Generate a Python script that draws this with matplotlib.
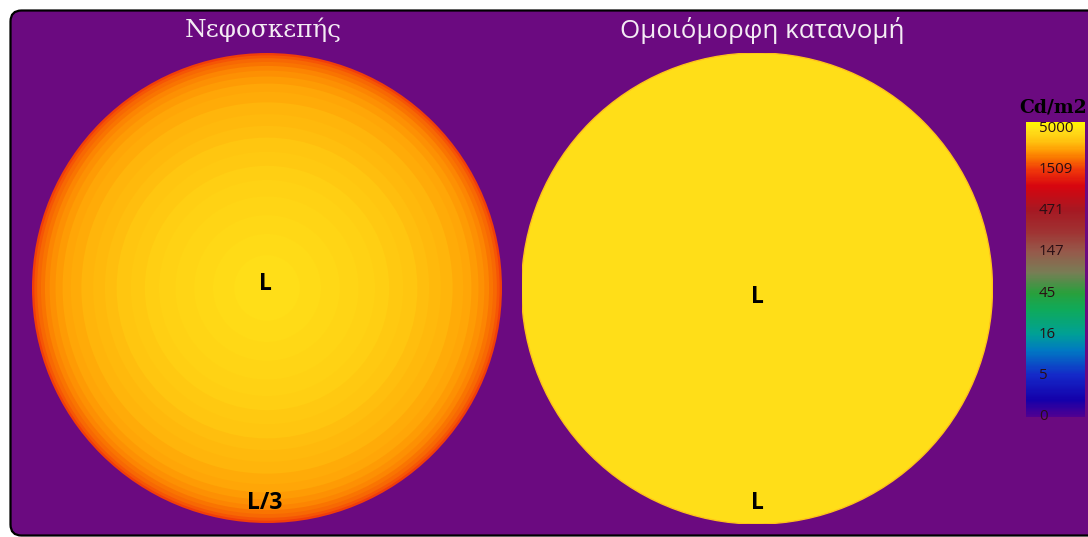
import numpy as np
import matplotlib
matplotlib.use("Agg")
import matplotlib.pyplot as plt
from matplotlib.patches import Circle, FancyBboxPatch
from matplotlib.colors import LinearSegmentedColormap, Normalize
from matplotlib.cm import ScalarMappable
import matplotlib.transforms as mtransforms

# ---------------------------------------------------------------------------
# Data
# ---------------------------------------------------------------------------
scale_values = [0, 5, 16, 45, 147, 471, 1509, 5000]          # cd/m2
scale_labels = ["0", "5", "16", "45", "147", "471", "1509", "5000"]

L_ZENITH = 4700.0                                            # cd/m2 at the zenith

# overcast sky: rings from the horizon (outer) to the zenith (inner)
overcast_ring_radius = [1.00, 0.99, 0.978, 0.962, 0.945, 0.925, 0.90, 0.87,
                        0.835, 0.79, 0.74, 0.69, 0.64, 0.58, 0.52, 0.46,
                        0.39, 0.31, 0.23, 0.14, 0.06]
overcast_ring_fraction = [1 / 3, 0.37, 0.41, 0.45, 0.49, 0.53, 0.565, 0.60,
                          0.63, 0.66, 0.69, 0.72, 0.75, 0.79, 0.83, 0.865,
                          0.895, 0.925, 0.955, 0.98, 1.0]

# uniform sky: the same luminance everywhere
uniform_fraction = 1.0

titles = ["Νεφοσκεπής", "Ομοιόμορφη κατανομή"]
unit_label = "Cd/m2"

# ---------------------------------------------------------------------------
# Styling
# ---------------------------------------------------------------------------
W, H = 1088, 537
PURPLE = "#6b0a80"
TOP_INDEX = 7.15

cmap_stops = [
    (0.0, (80, 0, 145)), (0.4, (20, 0, 170)), (1.0, (20, 40, 200)),
    (1.6, (0, 120, 195)), (2.0, (0, 160, 150)), (2.6, (15, 170, 90)),
    (3.0, (40, 160, 60)), (3.5, (120, 125, 85)), (4.0, (150, 90, 75)),
    (4.5, (160, 50, 50)), (5.0, (165, 25, 35)), (5.6, (215, 5, 15)),
    (6.0, (240, 55, 10)), (6.3, (250, 120, 0)), (6.5, (255, 160, 5)),
    (6.7, (255, 195, 15)), (6.95, (255, 222, 24)), (TOP_INDEX, (255, 248, 0)),
]
cmap = LinearSegmentedColormap.from_list(
    "luminance", [(p / TOP_INDEX, tuple(c / 255 for c in rgb)) for p, rgb in cmap_stops])
norm = Normalize(0, TOP_INDEX)


def lum_to_index(v):
    """Position on the logarithmic luminance scale (0 .. 7)."""
    logs = np.log(scale_values[1:])
    return float(np.interp(np.log(v), logs, np.arange(1, len(scale_values))))


def lum_color(v):
    return cmap(norm(lum_to_index(v)))


def fx(px):
    return px / W


def fy(py):
    return (H - py) / H


fig = plt.figure(figsize=(W / 100, H / 100), dpi=100)
fig.patch.set_facecolor("white")

# panel background with rounded frame
bg = fig.add_axes([0, 0, 1, 1])
bg.set_xlim(0, W)
bg.set_ylim(H, 0)
bg.axis("off")
bg.add_patch(FancyBboxPatch((10.5, 10.5), 1100, 525,
                            boxstyle="round,pad=0,rounding_size=11",
                            fc=PURPLE, ec="black", lw=1.6))


def disc_axes(cx, cy, r):
    ax = fig.add_axes([fx(cx - r), fy(cy + r), 2 * r / W, 2 * r / H])
    ax.set_xlim(-1, 1)
    ax.set_ylim(-1, 1)
    ax.set_aspect("equal")
    ax.axis("off")
    return ax


# overcast sky disc
ax_l = disc_axes(267, 288, 235)
for rad, frac in zip(overcast_ring_radius, overcast_ring_fraction):
    ax_l.add_patch(Circle((0, 0), rad, fc=lum_color(L_ZENITH * frac), ec="none"))

# uniform sky disc
ax_r = disc_axes(757, 288.5, 235.5)
ax_r.add_patch(Circle((0, 0), 1.0, fc=lum_color(L_ZENITH * uniform_fraction),
                      ec="#ffc21a", lw=1.0))

# titles
title_color = "#f4ecf4"
fig.text(fx(263), fy(37), titles[0], ha="center", va="baseline",
         family="DejaVu Serif", fontsize=17.8, color=title_color)
fig.text(fx(762), fy(38), titles[1], ha="center", va="baseline",
         family="Open Sans", fontsize=18.6, color=title_color)

# luminance markers
lab_kw = dict(ha="center", va="baseline", family="Open Sans",
              fontweight="bold", fontsize=16.5, color="black")
fig.text(fx(265), fy(290), "L", **lab_kw)
fig.text(fx(265), fy(509), "L/3", **lab_kw)
fig.text(fx(757), fy(303), "L", **lab_kw)
fig.text(fx(757), fy(509), "L", **lab_kw)

# colour bar
cax = fig.add_axes([fx(1026), fy(417), 59 / W, 295 / H])
cbar = fig.colorbar(ScalarMappable(norm=norm, cmap=cmap), cax=cax)
cbar.outline.set_visible(False)
cbar.set_ticks([])
cax.set_ylim(0, TOP_INDEX)
trans = mtransforms.blended_transform_factory(cax.transAxes, cax.transData)
for i, lab in enumerate(scale_labels):
    cax.text(0.22, i, lab, transform=trans, ha="left", va="center",
             family="Open Sans", fontsize=10.8, color="#2a0e14")

fig.text(fx(1019), fy(113), unit_label, ha="left", va="baseline",
         family="DejaVu Serif", fontweight="bold", fontsize=13.5, color="black")

fig.savefig("out.png", dpi=100, facecolor=fig.get_facecolor())
